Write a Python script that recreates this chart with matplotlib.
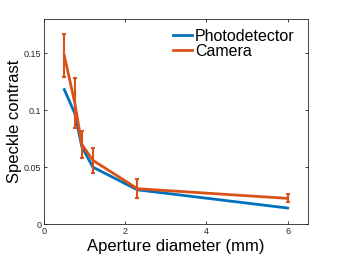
import matplotlib
matplotlib.use('Agg')
import matplotlib.pyplot as plt
from matplotlib.lines import Line2D

plt.rcParams['font.family'] = ['Liberation Sans', 'DejaVu Sans']

# data
aperture = [0.5, 0.76, 0.93, 1.2, 2.3, 6.0]
photodetector = [0.118, 0.097, 0.068, 0.050, 0.030, 0.014]
camera = [0.148, 0.106, 0.070, 0.056, 0.031, 0.0225]
camera_err = [0.019, 0.022, 0.012, 0.011, 0.0085, 0.0035]

blue = '#0072BD'
orange = '#D95319'

fig = plt.figure(figsize=(3.41, 2.56), dpi=100)
ax = fig.add_axes([44/341, 32/256, 264/341, 205/256])

ax.plot(aperture, photodetector, color=blue, lw=2)
ax.errorbar(aperture, camera, yerr=camera_err, color=orange, lw=2,
            elinewidth=1.5, capsize=1.5, capthick=1.5)

ax.set_xlim(0, 6.5)
ax.set_ylim(0, 0.18)
ax.set_xticks([0, 2, 4, 6])
ax.set_yticks([0, 0.05, 0.1, 0.15])
ax.set_xticklabels(['0', '2', '4', '6'])
ax.set_yticklabels(['0', '0.05', '0.1', '0.15'])
ax.tick_params(direction='in', top=True, right=True, labelsize=6.5,
               length=2.5, width=0.6, colors='#262626', pad=2)
for s in ax.spines.values():
    s.set_linewidth(0.6)
    s.set_color('#262626')

ax.set_xlabel('Aperture diameter (mm)', fontsize=12, labelpad=2)
ax.set_ylabel('Speckle contrast', fontsize=12, labelpad=1)

handles = [Line2D([], [], color=blue, lw=2), Line2D([], [], color=orange, lw=2)]
ax.legend(handles, ['Photodetector', 'Camera'], loc='upper right',
          frameon=False, fontsize=11.5, handlelength=1.2, handletextpad=0.15,
          labelspacing=0.0, borderaxespad=0.2, bbox_to_anchor=(0.985, 1.0))

fig.savefig('out.png', dpi=100)
